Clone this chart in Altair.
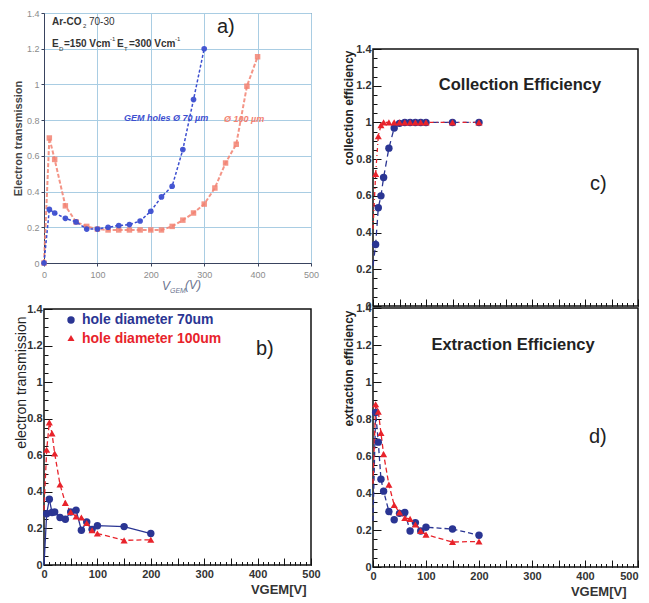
import altair as alt
import pandas as pd

FONT = "Liberation Sans"

# ---------------- panel a (electron transmission, scanned figure) ----------------
A_V70 = [0, 10, 20, 40, 60, 80, 100, 120, 140, 160, 180, 200, 220, 240, 260, 280, 300]
A_T70 = [0.0, 0.30, 0.28, 0.25, 0.23, 0.19, 0.19, 0.20, 0.21, 0.215, 0.235, 0.29, 0.37, 0.43, 0.635, 0.915, 1.20]
A_V100 = [0, 10, 20, 40, 60, 80, 100, 120, 140, 160, 180, 200, 220, 240, 260, 280, 300, 320, 340, 360, 380, 400]
A_T100 = [0.0, 0.70, 0.58, 0.32, 0.23, 0.205, 0.19, 0.185, 0.185, 0.185, 0.185, 0.185, 0.185, 0.205, 0.24,
          0.28, 0.33, 0.42, 0.56, 0.665, 0.99, 1.155]

# ---------------- panels b, c, d (ROOT style) ----------------
V = [0, 5, 10, 15, 20, 30, 40, 50, 60, 70, 80, 90, 100, 150, 200]
B_70 = [0.0, 0.28, 0.36, 0.287, 0.29, 0.26, 0.25, 0.29, 0.30, 0.19, 0.235, 0.195, 0.215, 0.21, 0.172]
B_100 = [0.30, 0.63, 0.78, 0.72, 0.61, 0.44, 0.34, 0.29, 0.265, 0.26, 0.23, 0.19, 0.172, 0.135, 0.138]
C_70 = [0.22, 0.335, 0.535, 0.60, 0.70, 0.86, 0.97, 0.995, 1.0, 1.0, 1.0, 1.0, 1.0, 1.0, 1.0]
C_100 = [0.42, 0.72, 0.925, 0.985, 1.0, 1.0, 1.0, 1.0, 1.0, 1.0, 1.0, 1.0, 1.0, 1.0, 1.0]
D_70 = [0.25, 0.835, 0.675, 0.475, 0.41, 0.30, 0.255, 0.29, 0.295, 0.195, 0.24, 0.195, 0.215, 0.205, 0.172]
D_100 = [0.45, 0.88, 0.84, 0.725, 0.61, 0.445, 0.335, 0.295, 0.265, 0.26, 0.23, 0.195, 0.175, 0.135, 0.138]

LEGEND = ["hole diameter 70um", "hole diameter 100um"]

X_MAJOR = list(range(0, 501, 50))
X_MINOR = list(range(0, 501, 10))
A_X_TICKS = [0, 100, 200, 300, 400, 500]
Y_MAJOR = [0, 0.2, 0.4, 0.6, 0.8, 1.0, 1.2, 1.4]
Y_MINOR = [round(i * 0.05, 2) for i in range(29)]

BLUE = "#2a3593"
RED = "#e8232b"
A_BLUE = "#3d4fd0"
A_RED = "#f28272"


def txt(text, x, y, size, color, weight="normal", style="normal", align="left", baseline="middle"):
    return alt.Chart(pd.DataFrame({"t": [text]})).mark_text(
        align=align, baseline=baseline, fontSize=size, font=FONT, fontWeight=weight,
        fontStyle=style, color=color
    ).encode(x=alt.value(x), y=alt.value(y), text="t:N")


def xs():
    return alt.Scale(domain=[0, 500], nice=False, zero=False)


def ys():
    return alt.Scale(domain=[0, 1.4], nice=False, zero=False)


# ---------- panel a ----------
dfa = pd.DataFrame({
    "V": A_V70 + A_V100,
    "T": A_T70 + A_T100,
    "s": ["70"] * len(A_V70) + ["100"] * len(A_V100),
})


def ax_a_x():
    return alt.Axis(values=A_X_TICKS, format="d", grid=True, gridColor="#a9cde3",
                    gridWidth=1, domainColor="#39435e", tickColor="#39435e", tickSize=3,
                    labelFont=FONT, labelFontSize=9, labelColor="#8c8c8c", labelPadding=4,
                    labelFlush=False, labelOverlap=False, title=None)


def ax_a_y():
    return alt.Axis(values=Y_MAJOR, format=".1~f", grid=True, gridColor="#a9cde3", gridWidth=1,
                    domainColor="#39435e", tickColor="#39435e", tickSize=3,
                    labelFont=FONT, labelFontSize=9, labelColor="#8c8c8c", labelPadding=2,
                    labelOverlap=False, labelFlush=False, title="Electron transmission",
                    titleFont=FONT, titleFontSize=11, titleFontWeight="bold", titleColor="#444",
                    titlePadding=3)


def enc_a():
    return dict(x=alt.X("V:Q", scale=xs(), axis=ax_a_x()), y=alt.Y("T:Q", scale=ys(), axis=ax_a_y()))


basea = alt.Chart(dfa)
a_red_line = basea.transform_filter(alt.datum.s == "100").mark_line(
    color=A_RED, strokeWidth=2, strokeDash=[4, 2], opacity=0.85).encode(**enc_a())
a_red_pts = basea.transform_filter(alt.datum.s == "100").mark_point(
    shape="square", filled=True, size=30, color=A_RED, opacity=0.85).encode(**enc_a())
a_blue_line = basea.transform_filter(alt.datum.s == "70").mark_line(
    color=A_BLUE, strokeWidth=1.5, strokeDash=[3, 2]).encode(**enc_a())
a_blue_pts = basea.transform_filter(alt.datum.s == "70").mark_point(
    shape="circle", filled=True, size=32, color=A_BLUE, opacity=0.95).encode(**enc_a())

a_texts = [
    txt("Ar-CO", 8, 9, 10, "#333", weight="bold"),
    txt("2", 39, 13, 6, "#333"),
    txt("70-30", 45, 9, 10, "#333"),
    txt("E", 8, 31, 10, "#333", weight="bold"),
    txt("D", 15, 36, 6, "#333"),
    txt("=150 Vcm", 20, 31, 10, "#333", weight="bold"),
    txt("-1", 66, 26, 6, "#333"),
    txt("E", 73, 31, 10, "#333", weight="bold"),
    txt("T", 80, 36, 6, "#333"),
    txt("=300 Vcm", 85, 31, 10, "#333", weight="bold"),
    txt("-1", 131, 26, 6, "#333"),
    txt("a)", 173, 14, 20, "#222"),
    txt("GEM holes \u00d8 70 \u00b5m", 80, 105, 9, A_BLUE, weight="bold", style="italic"),
    txt("\u00d8 100 \u00b5m", 180, 106, 9, A_RED, weight="bold", style="italic"),
    txt("V", 118, 273, 12, "#6a7490", style="italic"),
    txt("GEM", 126, 278, 7, "#6a7490", style="italic"),
    txt("(V)", 141, 272, 12, "#6a7490", style="italic"),
]
panel_a = alt.layer(a_red_line, a_red_pts, a_blue_line, a_blue_pts, *a_texts).properties(
    width=267, height=250,
    view=alt.ViewBackground(stroke="#3a4560", strokeWidth=1, fill="white"),
)

LABEL_ALIGN = {"condition": {"test": "datum.value >= 500", "value": "right"}, "value": "center"}


# ---------- ROOT panels ----------
def root_panel(s70, s100, dash70, dash100, ytitle, ysize, yweight, ypad, ytitle_y,
               xlabels, xtitle_x, width, height, extras, flush500=False):
    df = pd.DataFrame({"V": V + V, "val": s70 + s100, "s": ["70"] * len(V) + ["100"] * len(V)})
    base = alt.Chart(df)
    x_major_kw = dict(values=X_MAJOR, tickSize=7, offset=-7, domain=False, grid=False,
                      tickColor="#111", tickWidth=1, labelFlush=False, labelOverlap=False)
    if xlabels:
        x_major_kw.update(dict(
            format="d", labelExpr="datum.value % 100 == 0 ? datum.label : ''",
            labelFont=FONT, labelFontSize=11, labelFontWeight="bold", labelColor="#333",
            labelPadding=3, title="VGEM[V]", titleFont=FONT, titleFontSize=13,
            titleFontWeight="bold", titleColor="#333", titleX=xtitle_x, titleAlign="right",
            titlePadding=4))
        if flush500:
            x_major_kw["labelAlign"] = LABEL_ALIGN
    else:
        x_major_kw.update(dict(labels=False, title=None))
    x_major = alt.Axis(**x_major_kw)
    x_minor = alt.Axis(values=X_MINOR, tickSize=3.5, offset=-3.5, domain=False, grid=False,
                       labels=False, title=None, tickColor="#111", tickWidth=1, orient="bottom")
    y_major = alt.Axis(values=Y_MAJOR, format=".1~f", tickSize=8, offset=-8, domain=False, grid=False,
                       tickColor="#111", tickWidth=1, labelFont=FONT, labelFontSize=11,
                       labelFontWeight="bold", labelColor="#333", labelPadding=2,
                       labelOverlap=False, labelFlush=False,
                       title=ytitle, titleFont=FONT, titleFontSize=ysize, titleFontWeight=yweight,
                       titleColor="#222", titlePadding=ypad, titleAnchor="end", titleAlign="right",
                       titleY=ytitle_y)
    y_minor = alt.Axis(values=Y_MINOR, tickSize=4, offset=-4, domain=False, grid=False,
                       labels=False, title=None, tickColor="#111", tickWidth=1, orient="left")

    kw70 = dict(color=BLUE, strokeWidth=1.3)
    if dash70:
        kw70["strokeDash"] = dash70
    kw100 = dict(color=RED, strokeWidth=1.3)
    if dash100:
        kw100["strokeDash"] = dash100

    l70 = base.transform_filter(alt.datum.s == "70").mark_line(**kw70).encode(
        x=alt.X("V:Q", scale=xs(), axis=x_major), y=alt.Y("val:Q", scale=ys(), axis=y_major))
    l100 = base.transform_filter(alt.datum.s == "100").mark_line(**kw100).encode(
        x=alt.X("V:Q", scale=xs(), axis=x_minor), y=alt.Y("val:Q", scale=ys(), axis=y_minor))
    p70 = base.transform_filter((alt.datum.s == "70") & (alt.datum.V > 0)).mark_point(
        shape="circle", filled=True, size=55, color=BLUE, opacity=1).encode(
        x=alt.X("V:Q", scale=xs(), axis=None), y=alt.Y("val:Q", scale=ys(), axis=None))
    p100 = base.transform_filter((alt.datum.s == "100") & (alt.datum.V > 0)).mark_point(
        shape="triangle-up", filled=True, size=50, color=RED, opacity=1).encode(
        x=alt.X("V:Q", scale=xs(), axis=None), y=alt.Y("val:Q", scale=ys(), axis=None))
    return alt.layer(l70, l100, p70, p100, *extras).resolve_axis(
        x="independent", y="independent").properties(
        width=width, height=height,
        view=alt.ViewBackground(stroke="#111", strokeWidth=1.5, fill="white"))


b_extras = [
    alt.Chart(pd.DataFrame({"t": [LEGEND[0]]})).mark_point(
        shape="circle", filled=True, size=55, color=BLUE, opacity=1).encode(
        x=alt.value(27), y=alt.value(11)),
    alt.Chart(pd.DataFrame({"t": [LEGEND[1]]})).mark_point(
        shape="triangle-up", filled=True, size=50, color=RED, opacity=1).encode(
        x=alt.value(27), y=alt.value(29)),
    txt(LEGEND[0], 38, 11, 14, BLUE, weight="bold"),
    txt(LEGEND[1], 38, 30, 14, RED, weight="bold"),
    txt("b)", 212, 40, 20, "#222"),
]
panel_b = root_panel(B_70, B_100, None, [5, 3], "electron transmission", 14, "normal", -2, 7,
                     True, 262, 267, 256, b_extras)

c_extras = [
    txt("Collection Efficiency", 147, 41, 16.5, "#222", weight="bold", align="center",
        baseline="alphabetic"),
    txt("c)", 217, 135, 20, "#222"),
]
panel_c = root_panel(C_70, C_100, [6, 4], [4, 3, 1, 3], "collection efficiency", 12, "bold", 0, 1,
                     False, 0, 265, 257, c_extras)

d_extras = [
    txt("Extraction Efficiency", 140, 42, 16.5, "#222", weight="bold", align="center",
        baseline="alphabetic"),
    txt("d)", 216, 129, 20, "#222"),
]
panel_d = root_panel(D_70, D_100, [5, 3], [5, 3], "extraction efficiency", 12, "bold", 0, 2,
                     True, 253, 265, 259, d_extras, flush500=True)

spacer = alt.Chart(pd.DataFrame({"v": [0]})).mark_point(opacity=0, size=1).encode(
    x=alt.value(0), y=alt.value(0)).properties(
    width=265, height=34, view=alt.ViewBackground(stroke="transparent"))

left = alt.vconcat(panel_a, panel_b, spacing=46, bounds="flush")
right = alt.vconcat(spacer, panel_c, panel_d, spacing=2, bounds="flush")

chart = alt.hconcat(left, right, spacing=20).properties(
    padding={"left": 3, "top": 0, "right": 0, "bottom": 0},
    background="white",
)

chart.save("out.html", embed_options={"renderer": "svg", "actions": False})
